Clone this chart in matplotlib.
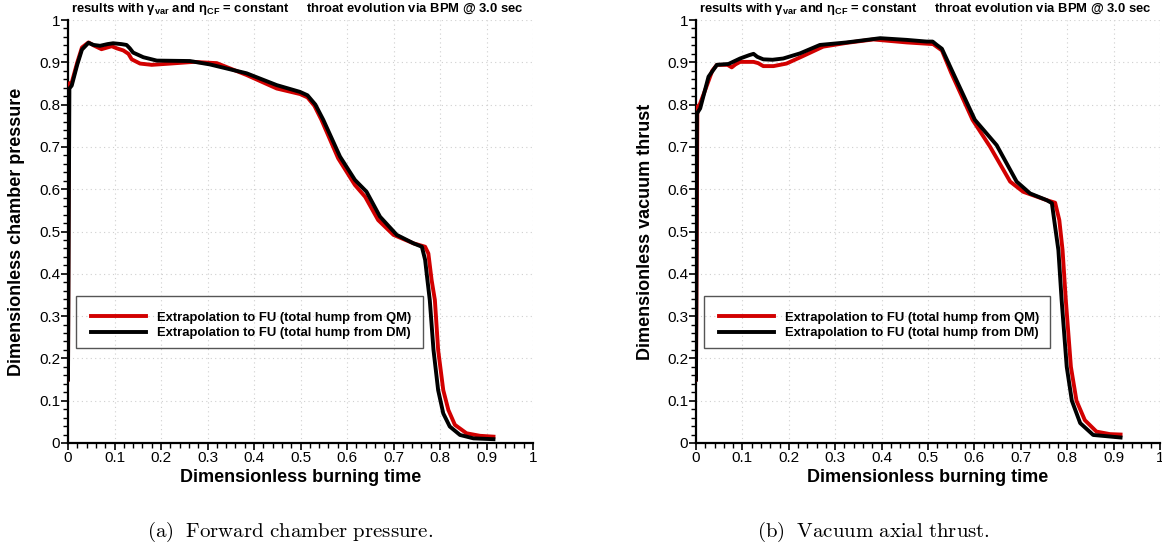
import matplotlib
matplotlib.use("Agg")
import matplotlib.pyplot as plt
from matplotlib.patches import Rectangle
from matplotlib.ticker import MultipleLocator

plt.rcParams['font.family'] = ['Liberation Sans', 'DejaVu Sans']
plt.rcParams['mathtext.fontset'] = 'custom'
plt.rcParams['mathtext.rm'] = 'Liberation Sans:bold'
plt.rcParams['mathtext.it'] = 'Liberation Sans:bold'
plt.rcParams['mathtext.bf'] = 'Liberation Sans:bold'

# ---------------- data ----------------
p_qm_t = [0, 0.002, 0.008, 0.02, 0.03, 0.044, 0.055, 0.072, 0.094, 0.105, 0.119, 0.13, 0.137,
          0.155, 0.18, 0.22, 0.27, 0.32, 0.384, 0.449, 0.499, 0.515, 0.53, 0.545, 0.581, 0.617,
          0.639, 0.667, 0.70, 0.743, 0.768, 0.775, 0.782, 0.789, 0.796, 0.807, 0.818, 0.832,
          0.857, 0.886, 0.915]
p_qm_v = [0.15, 0.85, 0.852, 0.90, 0.935, 0.947, 0.94, 0.931, 0.938, 0.933, 0.928, 0.92, 0.907,
          0.897, 0.894, 0.897, 0.901, 0.898, 0.87, 0.838, 0.825, 0.817, 0.797, 0.764, 0.673, 0.61,
          0.582, 0.527, 0.492, 0.472, 0.464, 0.448, 0.385, 0.338, 0.22, 0.125, 0.078, 0.043,
          0.023, 0.017, 0.015]

p_dm_t = [0, 0.003, 0.008, 0.02, 0.03, 0.044, 0.055, 0.069, 0.085, 0.097, 0.115, 0.126, 0.133,
          0.14, 0.162, 0.191, 0.262, 0.305, 0.384, 0.449, 0.499, 0.515, 0.532, 0.549, 0.585,
          0.617, 0.642, 0.671, 0.707, 0.743, 0.761, 0.768, 0.773, 0.778, 0.786, 0.796, 0.807,
          0.821, 0.843, 0.872, 0.915]
p_dm_v = [0.15, 0.838, 0.845, 0.895, 0.93, 0.946, 0.941, 0.939, 0.943, 0.945, 0.943, 0.941, 0.933,
          0.923, 0.912, 0.904, 0.903, 0.895, 0.874, 0.846, 0.83, 0.822, 0.8, 0.764, 0.677,
          0.622, 0.594, 0.535, 0.492, 0.472, 0.464, 0.433, 0.385, 0.338, 0.22, 0.125, 0.07,
          0.039, 0.019, 0.011, 0.009]

f_qm_t = [0, 0.003, 0.008, 0.02, 0.035, 0.045, 0.068, 0.077, 0.085, 0.095, 0.124, 0.134, 0.145,
          0.167, 0.195, 0.231, 0.274, 0.325, 0.382, 0.454, 0.511, 0.53, 0.55, 0.596, 0.634, 0.677,
          0.705, 0.756, 0.774, 0.783, 0.79, 0.797, 0.808, 0.82, 0.838, 0.863, 0.892, 0.915]
f_qm_v = [0.15, 0.795, 0.80, 0.835, 0.88, 0.894, 0.894, 0.888, 0.895, 0.901, 0.901, 0.898, 0.891,
          0.891, 0.897, 0.915, 0.937, 0.946, 0.954, 0.947, 0.943, 0.928, 0.875, 0.764, 0.70, 0.618,
          0.594, 0.574, 0.568, 0.527, 0.456, 0.338, 0.18, 0.10, 0.054, 0.027, 0.021, 0.02]

f_dm_t = [0, 0.002, 0.009, 0.027, 0.045, 0.07, 0.095, 0.115, 0.124, 0.132, 0.145, 0.165, 0.188,
          0.224, 0.267, 0.325, 0.397, 0.454, 0.497, 0.51, 0.519, 0.53, 0.551, 0.601, 0.648, 0.691,
          0.72, 0.756, 0.767, 0.774, 0.781, 0.788, 0.799, 0.81, 0.828, 0.856, 0.915]
f_dm_v = [0.15, 0.779, 0.791, 0.866, 0.894, 0.896, 0.909, 0.917, 0.92, 0.913, 0.907, 0.906, 0.909,
          0.921, 0.941, 0.947, 0.957, 0.953, 0.949, 0.949, 0.941, 0.932, 0.882, 0.764, 0.704, 0.618,
          0.59, 0.574, 0.567, 0.511, 0.456, 0.338, 0.18, 0.10, 0.047, 0.019, 0.013]

label_qm = "Extrapolation to FU (total hump from QM)"
label_dm = "Extrapolation to FU (total hump from DM)"
ylabels = ["Dimensionless chamber pressure", "Dimensionless vacuum thrust"]
xlabel = "Dimensionless burning time"
captions = [r"$\mathrm{(a)\ \ Forward\ chamber\ pressure.}$", r"$\mathrm{(b)\ \ Vacuum\ axial\ thrust.}$"]
title_txt = r"results with γ$_{\mathrm{var}}$ and η$_{\mathrm{CF}}$ = constant     throat evolution via BPM @ 3.0 sec"
xticks = [0, 0.1, 0.2, 0.3, 0.4, 0.5, 0.6, 0.7, 0.8, 0.9, 1]
xticklabels = ["0", "0.1", "0.2", "0.3", "0.4", "0.5", "0.6", "0.7", "0.8", "0.9", "1"]

RED = "#d20000"
W, H = 1162, 545
fig = plt.figure(figsize=(W / 100, H / 100), dpi=100)

panels = [
    dict(x0=68, x1=533, data=((p_qm_t, p_qm_v), (p_dm_t, p_dm_v)), cap_x=290),
    dict(x0=696, x1=1160, data=((f_qm_t, f_qm_v), (f_dm_t, f_dm_v)), cap_x=873),
]
y_top, y_bot = 20, 443

for i, pnl in enumerate(panels):
    ax = fig.add_axes([pnl['x0'] / W, 1 - y_bot / H, (pnl['x1'] - pnl['x0']) / W, (y_bot - y_top) / H])
    (qt, qv), (dt, dv) = pnl['data']
    l1, = ax.plot(qt, qv, color=RED, lw=2.8, solid_joinstyle='round', zorder=3)
    l2, = ax.plot(dt, dv, color='black', lw=2.8, solid_joinstyle='round', zorder=4)
    ax.set_xlim(0, 1)
    ax.set_ylim(0, 1)
    ax.set_xticks(xticks)
    ax.set_xticklabels(xticklabels)
    ax.set_yticks(xticks)
    ax.set_yticklabels(xticklabels)
    ax.xaxis.set_minor_locator(MultipleLocator(0.02))
    ax.yaxis.set_minor_locator(MultipleLocator(0.02))
    ax.tick_params(which='major', direction='out', length=5, width=1.2, labelsize=11, pad=0.5)
    ax.tick_params(which='minor', direction='out', length=3.5, width=1.0)
    ax.grid(True, which='major', color='#cfcfcf', linestyle=(0, (1, 3)), linewidth=0.8)
    for s in ['top', 'right']:
        ax.spines[s].set_visible(False)
    for s in ['left', 'bottom']:
        ax.spines[s].set_linewidth(1.6)
    ax.set_axisbelow(True)

    # title
    ax.text(0.006, 1.008, title_txt, transform=ax.transAxes, fontsize=9.4, fontweight='bold',
            ha='left', va='bottom')

    # legend
    ax.add_patch(Rectangle((0.017, 0.2246), 0.746, 0.123, transform=ax.transAxes, fill=False,
                           edgecolor='#555555', lw=1.0, zorder=5))
    ax.legend([l1, l2], [label_qm, label_dm], loc='center left', bbox_to_anchor=(0.036, 0.278),
              frameon=False, borderpad=0, handlelength=4.2, handletextpad=0.8, labelspacing=0.25,
              prop=dict(weight='bold', size=9.4))

    # axis labels
    xc = (pnl['x0'] + pnl['x1']) / 2
    fig.text(xc / W, 1 - 478 / H, xlabel, fontsize=13, fontweight='bold', ha='center', va='center')
    fig.text((pnl['x0'] - 51) / W, 1 - ((y_top + y_bot) / 2) / H, ylabels[i], fontsize=13,
             fontweight='bold', rotation=90, ha='center', va='center')
    fig.text(pnl['cap_x'] / W, 1 - 532 / H, captions[i], fontsize=15, ha='center', va='center',
             math_fontfamily='cm')

fig.savefig("out.png", dpi=100)
